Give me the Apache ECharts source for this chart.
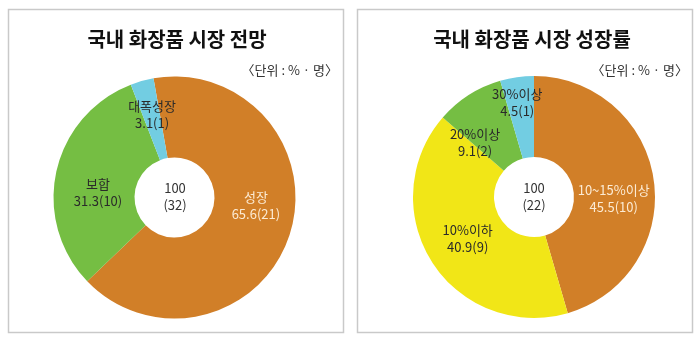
<!DOCTYPE html>
<html>
<head>
<meta charset="utf-8">
<script src="https://cdn.jsdelivr.net/npm/echarts@6/dist/echarts.min.js"></script>
<style>
  html, body { margin: 0; padding: 0; background: #fff; }
  #chart { width: 700px; height: 345px; }
</style>
</head>
<body>
<div id="chart"></div>
<script>
// 국내 화장품 시장 전망 (단위: %, 명)
const outlookNames = ['성장', '보합', '대폭성장'];
const outlookShares = [65.6, 31.3, 3.1];
const outlookCounts = [21, 10, 1];

// 국내 화장품 시장 성장률 (단위: %, 명)
const growthNames = ['10~15%이상', '10%이하', '20%이상', '30%이상'];
const growthShares = [45.5, 40.9, 9.1, 4.5];
const growthCounts = [10, 9, 2, 1];

const titles = ['국내 화장품 시장 전망', '국내 화장품 시장 성장률'];
const unitText = '〈단위 : % · 명〉';

const FONT = '"Noto Sans CJK KR", "Noto Sans", sans-serif';
const ORANGE = '#d17f28', GREEN = '#75be43', SKY = '#72cde2', YELLOW = '#f1e617';
const outlookColors = [ORANGE, GREEN, SKY];
const growthColors = [ORANGE, YELLOW, GREEN, SKY];

// nudges (px) applied to the inside labels so they sit clear of one another
const outlookLabelShift = [[2, -18], [5, 13], [0, -3]];
const growthLabelShift = [[-3, 13], [4, -3], [-14, 16], [-5, -12]];

function buildData(names, shares, counts, colors) {
  return names.map((n, i) => ({
    name: n,
    value: shares[i],
    count: counts[i],
    itemStyle: { color: colors[i] },
    label: { color: colors[i] === ORANGE ? '#fcebd4' : '#2a2a2a' }
  }));
}

function total(arr) {
  return Math.round(arr.reduce((a, b) => a + b, 0) * 10) / 10;
}

function pieSeries(data, center, startAngle, shifts) {
  return {
    type: 'pie',
    radius: [40, 121],
    center: center,
    startAngle: startAngle,
    clockwise: true,
    silent: true,
    animation: false,
    avoidLabelOverlap: false,
    itemStyle: { borderWidth: 0 },
    label: {
      show: true,
      position: 'inside',
      fontFamily: FONT,
      fontSize: 13,
      lineHeight: 17,
      align: 'center',
      formatter: p => p.name + '\n' + p.value + '(' + p.data.count + ')'
    },
    labelLine: { show: false },
    labelLayout: p => ({ dx: shifts[p.dataIndex][0], dy: shifts[p.dataIndex][1], hideOverlap: false }),
    data: data
  };
}

const chart = echarts.init(document.getElementById('chart'), null, { renderer: 'canvas' });

const boxStyle = { fill: '#fff', stroke: '#c9c9c9', lineWidth: 1.5 };
const centerStyle = (txt) => ({
  text: txt, fill: '#333', font: '13px ' + FONT,
  textAlign: 'center', textVerticalAlign: 'middle', lineHeight: 17
});

chart.setOption({
  backgroundColor: '#fff',
  title: [
    { text: titles[0], left: 172, top: 24, textAlign: 'center',
      textStyle: { fontFamily: FONT, fontSize: 20, fontWeight: 'bold', color: '#111' } },
    { text: titles[1], left: 527, top: 24, textAlign: 'center',
      textStyle: { fontFamily: FONT, fontSize: 20, fontWeight: 'bold', color: '#111' } },
    { text: unitText, right: 357, top: 59,
      textStyle: { fontFamily: FONT, fontSize: 13, fontWeight: 'normal', color: '#333' } },
    { text: unitText, right: 7, top: 59,
      textStyle: { fontFamily: FONT, fontSize: 13, fontWeight: 'normal', color: '#333' } }
  ],
  graphic: [
    { type: 'rect', z: -10, shape: { x: 8.5, y: 9.5, width: 335, height: 323 }, style: boxStyle },
    { type: 'rect', z: -10, shape: { x: 357.5, y: 9.5, width: 335, height: 323 }, style: boxStyle },
    { type: 'text', z: 10, x: 175, y: 197,
      style: centerStyle(total(outlookShares) + '\n(' + total(outlookCounts) + ')') },
    { type: 'text', z: 10, x: 534, y: 197,
      style: centerStyle(total(growthShares) + '\n(' + total(growthCounts) + ')') }
  ],
  series: [
    pieSeries(buildData(outlookNames, outlookShares, outlookCounts, outlookColors), [174.5, 197.5], 100, outlookLabelShift),
    pieSeries(buildData(growthNames, growthShares, growthCounts, growthColors), [534, 197], 90, growthLabelShift)
  ]
});
</script>
</body>
</html>
